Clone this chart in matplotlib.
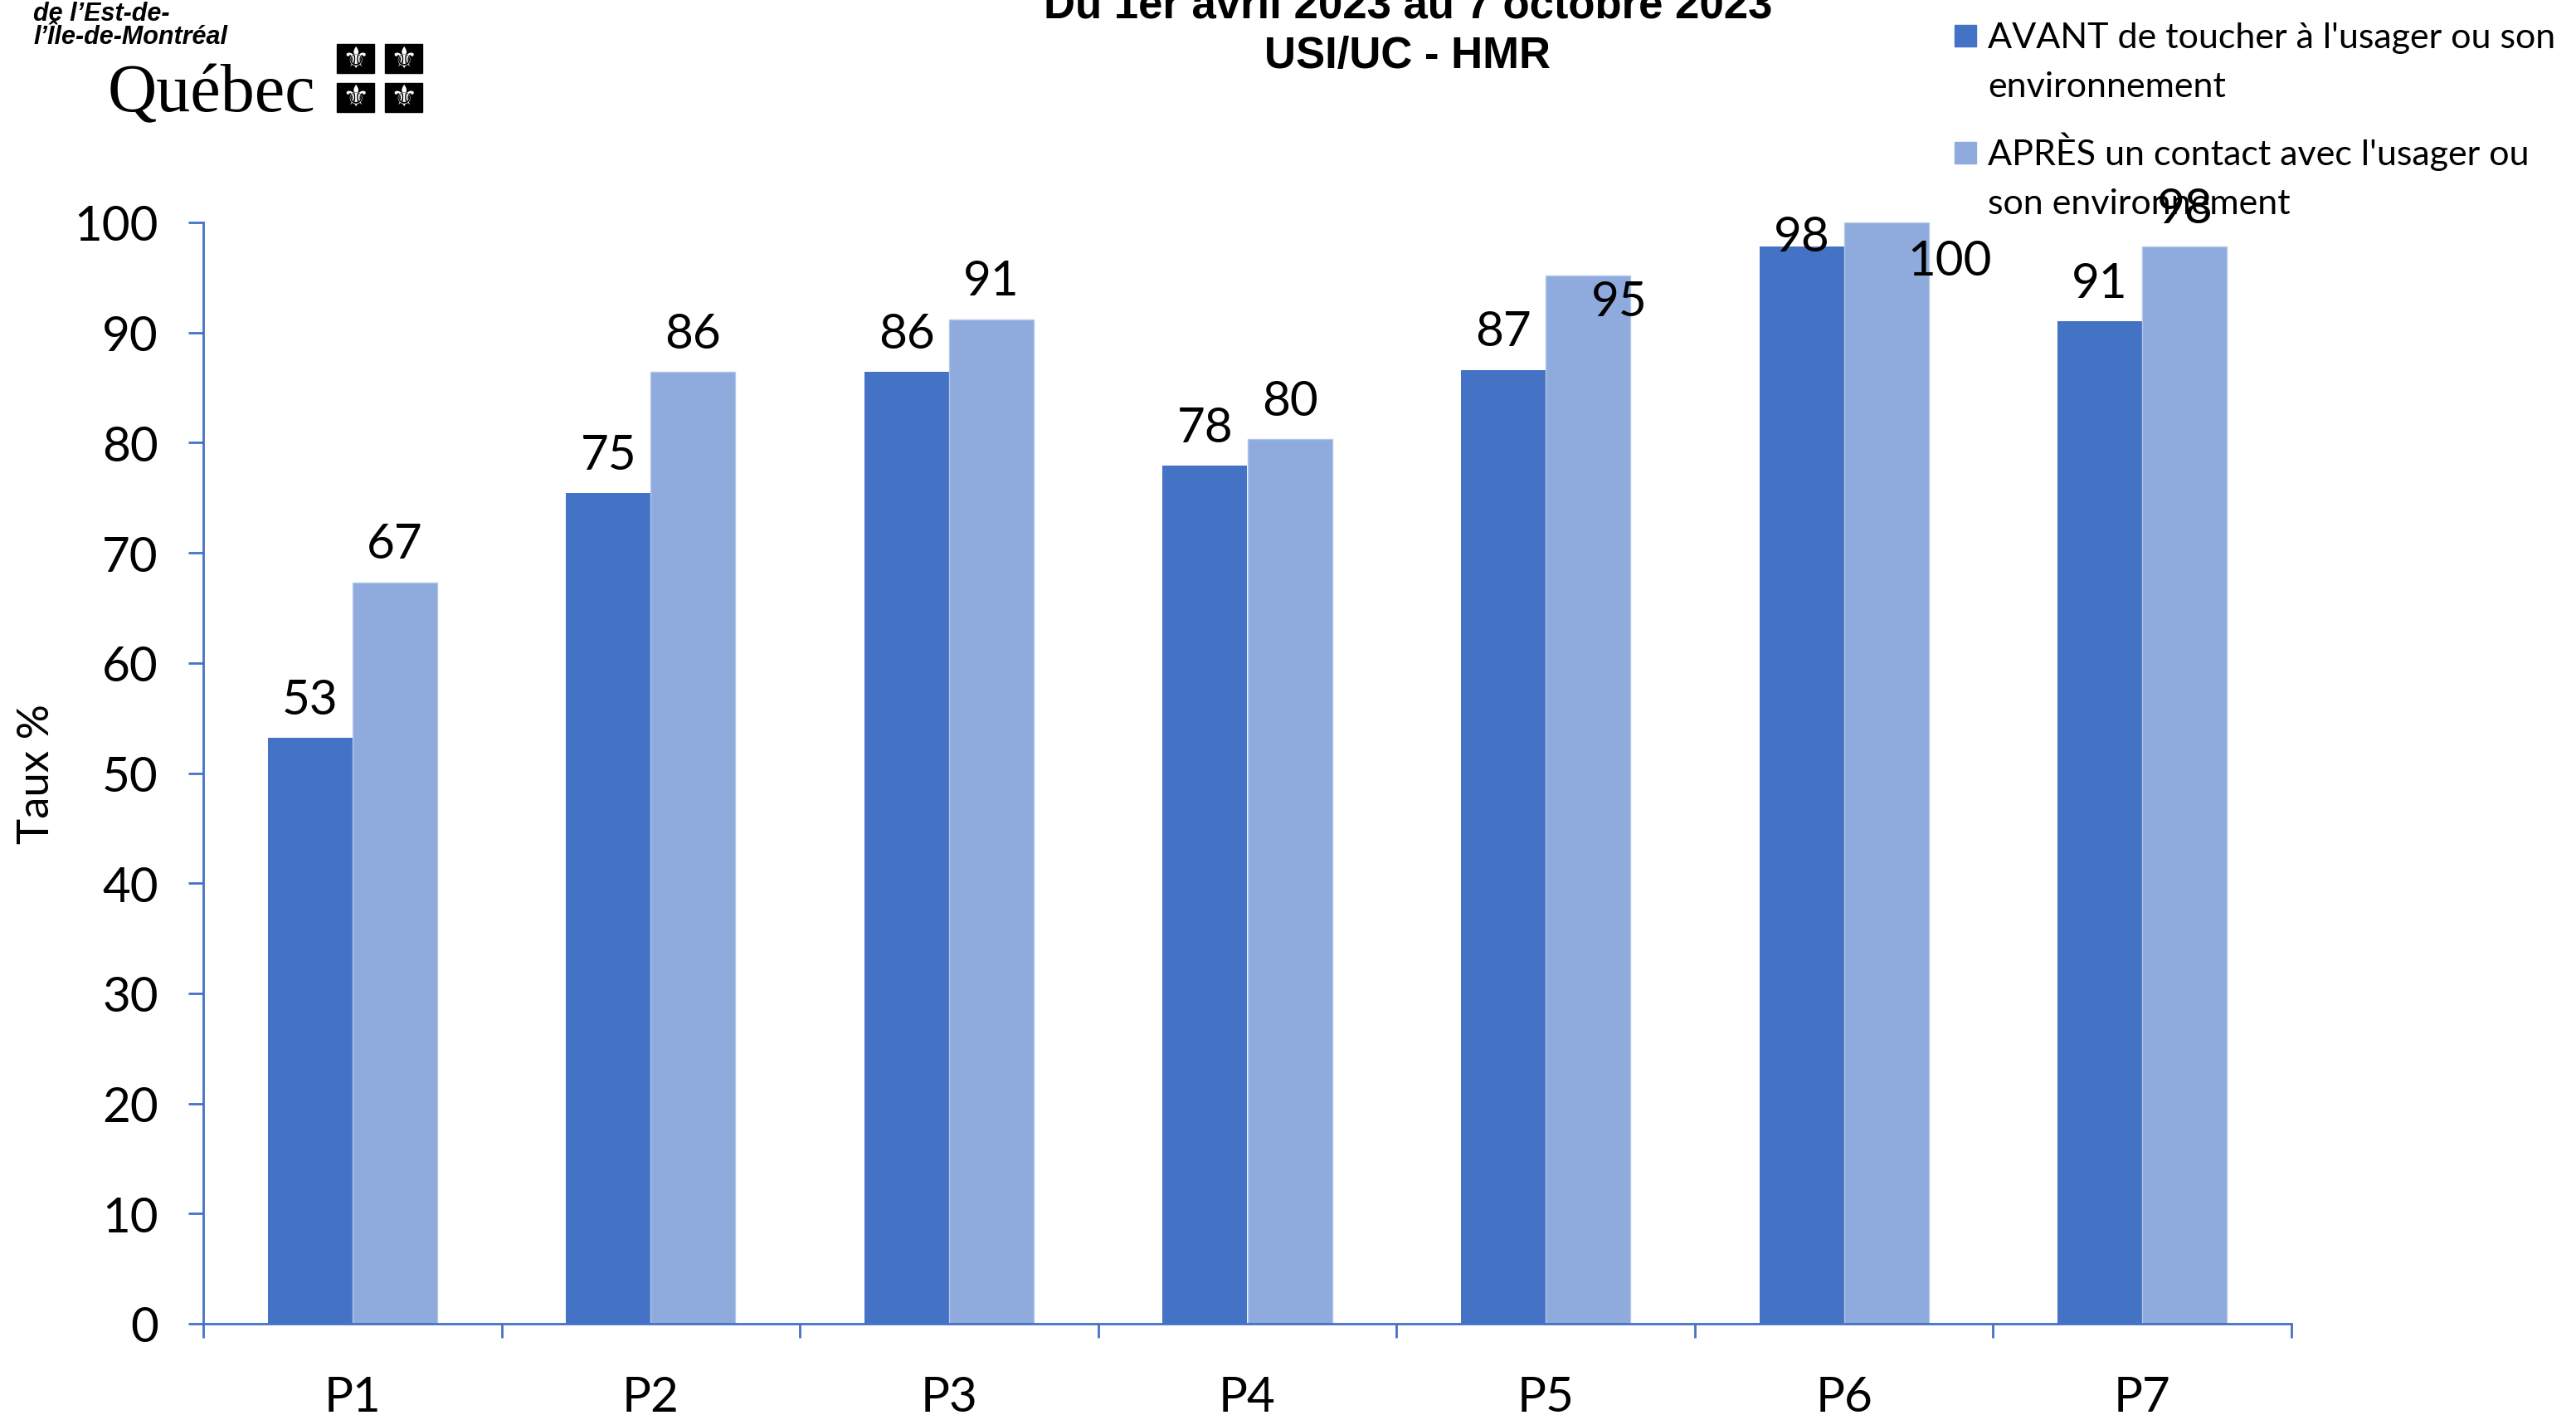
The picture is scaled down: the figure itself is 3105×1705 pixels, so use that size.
#!/usr/bin/env python3

import numpy as np
import matplotlib
matplotlib.use('Agg')
import matplotlib.pyplot as plt
from matplotlib.patches import Rectangle

# données
categories = ['P1', 'P2', 'P3', 'P4', 'P5', 'P6', 'P7']
avant = [53.2, 75.4, 86.4, 77.9, 86.6, 97.8, 91.0]
apres = [67.3, 86.4, 91.2, 80.3, 95.2, 100.0, 97.8]
series_labels = ["AVANT de toucher à l'usager ou son\nenvironnement",
                 "APRÈS un contact avec l'usager ou\nson environnement"]
yticks = list(range(0, 101, 10))
title_lines = ['Du 1er avril 2023 au 7 octobre 2023', 'USI/UC - HMR']

DARK = '#4472C4'
LIGHT = '#8FAADC'
FONT = 'Lato'

W, H = 3105, 1706
fig = plt.figure(figsize=(W / 100, H / 100), dpi=100)
ax_l, ax_r, ax_t, ax_b = 245, 2762, 269, 1596
ax = fig.add_axes([ax_l / W, 1 - ax_b / H, (ax_r - ax_l) / W, (ax_b - ax_t) / H])

x = np.arange(len(categories))
bw = 0.284
b1 = ax.bar(x - bw / 2, avant, bw, color=DARK, label=series_labels[0])
b2 = ax.bar(x + bw / 2, apres, bw, color=LIGHT, edgecolor='#B4C7E7', linewidth=1,
            label=series_labels[1])

# étiquettes de données (décalages en pixels, comme dans le graphique Excel)
default_off = (0, 46)
special_off = {(1, 4): (38, -32), (0, 5): (0, 12), (1, 5): (76, -46)}
for s, (bars, vals) in enumerate([(b1, avant), (b2, apres)]):
    for i, (rect, v) in enumerate(zip(bars, vals)):
        dx, dy = special_off.get((s, i), default_off)
        ax.annotate(f'{int(round(v))}', (rect.get_x() + rect.get_width() / 2, v),
                    xytext=(dx, dy), textcoords='offset pixels',
                    ha='center', va='center', fontsize=42, family=FONT,
                    annotation_clip=False)

ax.set_xlim(-0.5, len(categories) - 0.5)
ax.set_ylim(0, 100)
ax.set_yticks(yticks)
ax.set_yticklabels([str(t) for t in yticks], fontsize=42, family=FONT)

ax.set_xticks(np.arange(-0.5, len(categories), 1.0))
ax.set_xticklabels([])
ax.set_xticks(x, minor=True)
ax.set_xticklabels(categories, minor=True, fontsize=42, family=FONT)
ax.tick_params(axis='x', which='major', length=12, width=2, color=DARK, direction='out')
ax.tick_params(axis='x', which='minor', length=0, pad=45)
ax.tick_params(axis='y', length=13, width=2, color=DARK, pad=26)

for sp in ['top', 'right']:
    ax.spines[sp].set_visible(False)
for sp in ['left', 'bottom']:
    ax.spines[sp].set_color(DARK)
    ax.spines[sp].set_linewidth(2)

ax.set_ylabel('Taux %', fontsize=38, family=FONT, va='center')
ax.yaxis.set_label_coords((44 - ax_l) / (ax_r - ax_l), 0.5)

# titre
fig.text(1697 / W, 1 - 8 / H, title_lines[0], ha='center', va='center',
         fontsize=38, fontweight='bold', family='Liberation Sans')
fig.text(1697 / W, 1 - 68 / H, title_lines[1], ha='center', va='center',
         fontsize=38, fontweight='bold', family='Liberation Sans')

# légende manuelle
leg_y = [44, 185]
for col, lab, yc in zip([DARK, LIGHT], series_labels, leg_y):
    fig.add_artist(Rectangle((2356 / W, 1 - (yc + 13) / H), 26 / W, 26 / H,
                             transform=fig.transFigure, color=col))
    for j, line in enumerate(lab.split('\n')):
        fig.text(2396 / W, 1 - (yc + 14 + 59 * j) / H, line, ha='left', va='baseline',
                 fontsize=31, family=FONT)

# logo
for j, line in enumerate(['de l’Est-de-', 'l’Île-de-Montréal']):
    fig.text(40 / W, 1 - (25 + 28 * j) / H, line, ha='left', va='baseline',
             fontsize=22, fontweight='bold', style='italic', family='Liberation Sans')
fig.text(130 / W, 1 - 134 / H, 'Québec', ha='left', va='baseline',
         fontsize=59, family='Liberation Serif')
for sx in [406, 464]:
    for sy in [54, 101]:
        fig.add_artist(Rectangle((sx / W, 1 - (sy + 35) / H), 45 / W, 35 / H,
                                 transform=fig.transFigure, color='black'))
        fig.text((sx + 22.5) / W, 1 - (sy + 17.5) / H, '⚜', ha='center', va='center',
                 fontsize=26, color='white', family='DejaVu Sans')

plt.savefig('out.png', dpi=100)
plt.close()
